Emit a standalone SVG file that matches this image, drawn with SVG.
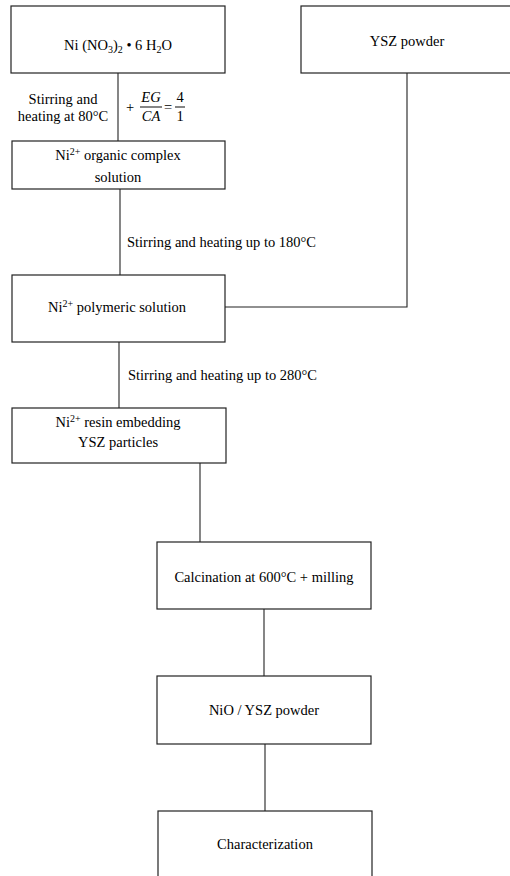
<svg xmlns="http://www.w3.org/2000/svg" width="510" height="876" viewBox="0 0 510 876">
<style>
.box{fill:#fff;stroke:#222;stroke-width:1.2}
.ln{fill:none;stroke:#222;stroke-width:1.1}
text{font-family:"Liberation Serif","Times New Roman",serif;font-size:14.5px;fill:#000}
.c{text-anchor:middle}
.i{font-style:italic}
.sup{font-size:10px}
.sub{font-size:10px}
</style>
<rect width="510" height="876" fill="#fff"/>
<g id="connectors">
<line class="ln" x1="118" y1="73" x2="118" y2="141"/>
<line class="ln" x1="120" y1="189" x2="120" y2="275"/>
<polyline class="ln" points="407,73 407,307 225,307"/>
<line class="ln" x1="119" y1="342" x2="119" y2="408"/>
<line class="ln" x1="200" y1="463" x2="200" y2="542"/>
<line class="ln" x1="264" y1="609" x2="264" y2="676"/>
<line class="ln" x1="265" y1="744" x2="265" y2="811"/>
</g>
<g id="label-80">
<text class="c" x="63" y="104">Stirring and</text>
<text class="c" x="63" y="121">heating at 80°C</text>
</g>
<g id="label-ratio">
<text x="126" y="112">+</text>
<text class="c i" x="151" y="102">EG</text>
<line class="ln" x1="140" y1="107" x2="162" y2="107" stroke-width="0.9"/>
<text class="c i" x="151" y="121">CA</text>
<text x="164" y="112">=</text>
<text class="c" x="180" y="102">4</text>
<line class="ln" x1="175" y1="107" x2="185" y2="107" stroke-width="0.9"/>
<text class="c" x="180" y="121">1</text>
</g>
<g id="label-180"><text x="127" y="247">Stirring and heating up to 180°C</text></g>
<g id="label-280"><text x="128" y="380">Stirring and heating up to 280°C</text></g>
<g id="n1">
<rect class="box" x="11" y="6" width="214" height="67"/>
<text class="c" x="118" y="50">Ni (NO<tspan class="sub" dy="3">3</tspan><tspan dy="-3">)</tspan><tspan class="sub" dy="3">2</tspan><tspan dy="-3"> • 6 H</tspan><tspan class="sub" dy="3">2</tspan><tspan dy="-3">O</tspan></text>
</g>
<g id="n-ysz">
<rect class="box" x="301" y="6" width="215" height="67"/>
<text class="c" x="407" y="46">YSZ powder</text>
</g>
<g id="n2">
<rect class="box" x="12" y="141" width="213" height="48"/>
<text class="c" x="118" y="160">Ni<tspan class="sup" dy="-5">2+</tspan><tspan dy="5"> organic complex</tspan></text>
<text class="c" x="118" y="182">solution</text>
</g>
<g id="n3">
<rect class="box" x="12" y="275" width="213" height="67"/>
<text class="c" x="117" y="312">Ni<tspan class="sup" dy="-5">2+</tspan><tspan dy="5"> polymeric solution</tspan></text>
</g>
<g id="n4">
<rect class="box" x="12" y="408" width="214" height="55"/>
<text class="c" x="118" y="427">Ni<tspan class="sup" dy="-5">2+</tspan><tspan dy="5"> resin embedding</tspan></text>
<text class="c" x="118" y="447">YSZ particles</text>
</g>
<g id="n5">
<rect class="box" x="157" y="542" width="214" height="67"/>
<text class="c" x="264" y="582">Calcination at 600°C + milling</text>
</g>
<g id="n6">
<rect class="box" x="157" y="676" width="214" height="68"/>
<text class="c" x="264" y="715">NiO / YSZ powder</text>
</g>
<g id="n7">
<rect class="box" x="158" y="811" width="214" height="80"/>
<text class="c" x="265" y="849">Characterization</text>
</g>
</svg>
